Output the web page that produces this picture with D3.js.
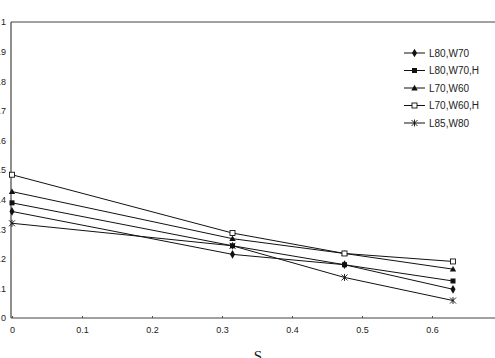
<!DOCTYPE html>
<html>
<head>
<meta charset="utf-8">
<script src="https://cdn.jsdelivr.net/npm/d3@7"></script>
<style>
  body { margin: 0; background: #fff; }
  svg { display: block; }
  .tick text { font-family: "Liberation Sans", Arial, sans-serif; font-size: 9px; fill: #222; }
  .legend text { font-family: "Liberation Sans", Arial, sans-serif; font-size: 10px; fill: #222; }
</style>
</head>
<body>
<svg width="495" height="358"></svg>
<script>
const xValues = [0, 0.315, 0.475, 0.63];
const seriesNames = ['L80,W70', 'L80,W70,H', 'L70,W60', 'L70,W60,H', 'L85,W80'];
const l80w70 = [0.36, 0.215, 0.18, 0.097];
const l80w70h = [0.389, 0.244, 0.18, 0.125];
const l70w60 = [0.427, 0.268, 0.218, 0.165];
const l70w60h = [0.484, 0.287, 0.218, 0.191];
const l85w80 = [0.32, 0.244, 0.137, 0.059];
const xTicks = [0, 0.1, 0.2, 0.3, 0.4, 0.5, 0.6, 0.7];
const yTicks = [0, 0.1, 0.2, 0.3, 0.4, 0.5, 0.6, 0.7, 0.8, 0.9, 1];

const svg = d3.select('svg');
const width = +svg.attr('width');
const height = +svg.attr('height');

const series = [
  { name: seriesNames[0], values: l80w70, marker: 'diamond' },
  { name: seriesNames[1], values: l80w70h, marker: 'square' },
  { name: seriesNames[2], values: l70w60, marker: 'triangle' },
  { name: seriesNames[3], values: l70w60h, marker: 'open' },
  { name: seriesNames[4], values: l85w80, marker: 'star' }
];

const margin = { left: 11, top: 22, right: 0, bottom: 40 };

const xScale = d3.scaleLinear().domain([0, 0.7]).range([margin.left + 1, margin.left + 491]);
const yScale = d3.scaleLinear().domain([0, 1]).range([318, 22]);

// axes
const xAxis = d3.axisBottom(xScale)
  .tickValues(xTicks)
  .tickFormat(d => d === 0 ? '0' : d3.format('.1f')(d))
  .tickSize(-2)
  .tickPadding(9);
const xAxisG = svg.append('g').attr('transform', `translate(0, ${yScale(0)})`).call(xAxis);
xAxisG.select('.domain').remove();
xAxisG.selectAll('.tick line').attr('stroke', '#555');

const yAxis = d3.axisLeft(yScale)
  .tickValues(yTicks)
  .tickFormat(d => d === 0 || d === 1 ? String(d) : d3.format('.1f')(d))
  .tickSize(0)
  .tickPadding(5);
const yAxisG = svg.append('g').attr('transform', `translate(${margin.left}, 0)`).call(yAxis);
yAxisG.select('.domain').remove();

// frame lines: left, bottom, top
svg.append('line').attr('x1', margin.left).attr('x2', margin.left)
  .attr('y1', yScale(1)).attr('y2', yScale(0)).attr('stroke', '#444').attr('stroke-width', 1.2);
svg.append('line').attr('x1', margin.left).attr('x2', width)
  .attr('y1', yScale(0)).attr('y2', yScale(0)).attr('stroke', '#444').attr('stroke-width', 1.2);
svg.append('line').attr('x1', margin.left).attr('x2', width)
  .attr('y1', yScale(1)).attr('y2', yScale(1)).attr('stroke', '#444').attr('stroke-width', 1.2);

// marker drawing
const drawMarker = (sel, type) => {
  if (type === 'diamond') {
    sel.append('path').attr('d', d3.symbol(d3.symbolDiamond, 22)()).attr('fill', '#111');
  } else if (type === 'square') {
    sel.append('rect').attr('x', -2.5).attr('y', -2.5).attr('width', 5).attr('height', 5).attr('fill', '#111');
  } else if (type === 'triangle') {
    sel.append('path').attr('d', 'M0,-3.2L3.2,2.4L-3.2,2.4Z').attr('fill', '#111');
  } else if (type === 'open') {
    sel.append('rect').attr('x', -2.5).attr('y', -2.5).attr('width', 5).attr('height', 5)
      .attr('fill', '#fff').attr('stroke', '#111').attr('stroke-width', 0.9);
  } else if (type === 'star') {
    sel.append('path').attr('d', 'M-3,-3L3,3M-3,3L3,-3M0,-3.5L0,3.5')
      .attr('stroke', '#111').attr('stroke-width', 0.9).attr('fill', 'none');
  }
};

const line = d3.line()
  .x((d, i) => xScale(xValues[i]))
  .y(d => yScale(d));

series.forEach(s => {
  svg.append('path')
    .datum(s.values)
    .attr('d', line)
    .attr('fill', 'none')
    .attr('stroke', '#111')
    .attr('stroke-width', 1);
  s.values.forEach((v, i) => {
    const g = svg.append('g').attr('transform', `translate(${xScale(xValues[i])}, ${yScale(v)})`);
    drawMarker(g, s.marker);
  });
});

// legend
const legend = svg.append('g').attr('class', 'legend').attr('transform', 'translate(404, 53)');
series.forEach((s, i) => {
  const row = legend.append('g').attr('transform', `translate(0, ${i * 17.5})`);
  row.append('line').attr('x1', 0).attr('x2', 21).attr('stroke', '#111').attr('stroke-width', 1);
  drawMarker(row.append('g').attr('transform', 'translate(10.5, 0)'), s.marker);
  row.append('text').attr('x', 25).attr('y', 3.5).text(s.name);
});

// x axis title
svg.append('text')
  .attr('x', 258)
  .attr('y', 361)
  .attr('text-anchor', 'middle')
  .attr('font-family', '"Liberation Serif", "Times New Roman", serif')
  .attr('font-size', 15)
  .attr('fill', '#222')
  .text('S');
</script>
</body>
</html>
